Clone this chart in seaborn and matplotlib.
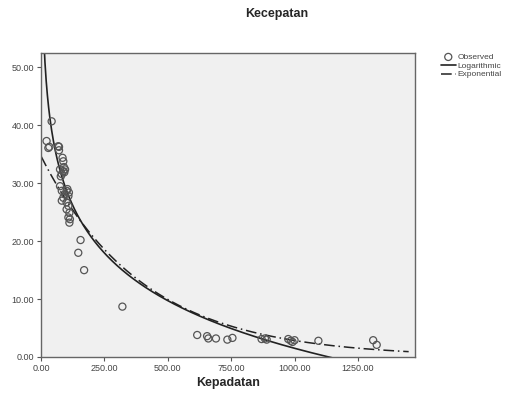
import numpy as np
import pandas as pd
import seaborn as sns
import matplotlib.pyplot as plt

# observed points
kepadatan = [22, 33, 29, 42, 68, 71, 71, 85, 88, 75, 88, 95, 82, 90, 78, 92,
             75, 82, 101, 95, 88, 108, 82, 101, 108, 101, 112, 108, 112, 114, 104, 110,
             156, 147, 170, 321, 616, 655, 660, 690, 735, 755, 870, 883, 890,
             975, 985, 992, 1000, 1094, 1310, 1324]
kecepatan = [37.3, 36.3, 36.1, 40.7, 36.4, 36.3, 35.7, 34.4, 33.8, 32.4, 32.1, 32.4, 31.6, 32.8, 31.2, 31.9,
             29.5, 28.7, 28.7, 28.1, 27.5, 27.8, 27.0, 26.7, 26.1, 25.5, 24.9, 24.1, 23.2, 23.8, 29.0, 28.4,
             20.2, 18.0, 15.0, 8.7, 3.8, 3.6, 3.2, 3.2, 3.0, 3.3, 3.1, 3.2, 3.0,
             3.1, 2.8, 2.6, 2.9, 2.8, 2.9, 2.1]

# fitted models
log_a, log_b = 83.5, -11.87        # y = a + b*ln(x)
exp_c, exp_d = 34.7, -0.0025       # y = c*exp(d*x)

obs = pd.DataFrame({'Kepadatan': kepadatan, 'Kecepatan': kecepatan})
xs = np.linspace(1, 1450, 600)
fit = pd.DataFrame({'x': xs,
                    'log': log_a + log_b * np.log(xs),
                    'exp': exp_c * np.exp(exp_d * xs)})

sns.set_style('white')
plt.rcParams['font.family'] = ['Liberation Sans', 'DejaVu Sans']

fig = plt.figure(figsize=(5.13, 3.96), dpi=100)
ax = fig.add_axes([41/513, 1-357/396, (415-41)/513, (357-53)/396])
ax.set_facecolor('#f0f0f0')

sns.scatterplot(data=obs, x='Kepadatan', y='Kecepatan', ax=ax, marker='o', s=26,
                facecolor='none', edgecolor='#555555', linewidth=0.9, label='Observed', zorder=3)
sns.lineplot(data=fit, x='x', y='log', ax=ax, color='#222222', lw=1.2, label='Logarithmic')
sns.lineplot(data=fit, x='x', y='exp', ax=ax, color='#222222', lw=1.1,
             linestyle=(0, (7, 2.5, 1, 2.5)), label='Exponential')

ax.set_xlim(0, 1475)
ax.set_ylim(0, 52.5)
ax.set_xticks([0, 250, 500, 750, 1000, 1250])
ax.set_yticks([0, 10, 20, 30, 40, 50])
ax.xaxis.set_major_formatter(plt.FormatStrFormatter('%.2f'))
ax.yaxis.set_major_formatter(plt.FormatStrFormatter('%.2f'))
ax.tick_params(axis='both', direction='out', length=3, width=0.8, colors='#555555',
               labelsize=6.5, labelcolor='#444444', left=True, bottom=True, pad=2)
for sp in ax.spines.values():
    sp.set_color('#666666')
    sp.set_linewidth(1.0)
ax.set_xlabel('Kepadatan', fontsize=9, fontweight='bold', labelpad=3)
ax.set_ylabel('')

fig.text(277/513, 1-14/396, 'Kecepatan', ha='center', va='center', fontsize=9, fontweight='bold')

leg = ax.legend(loc='upper left', bbox_to_anchor=(1.06, 1.01), frameon=False, fontsize=6,
                handlelength=1.8, handletextpad=0.2, labelspacing=0.1, borderaxespad=0)
for t in leg.get_texts():
    t.set_color('#444444')

fig.savefig('out.png', dpi=100)
